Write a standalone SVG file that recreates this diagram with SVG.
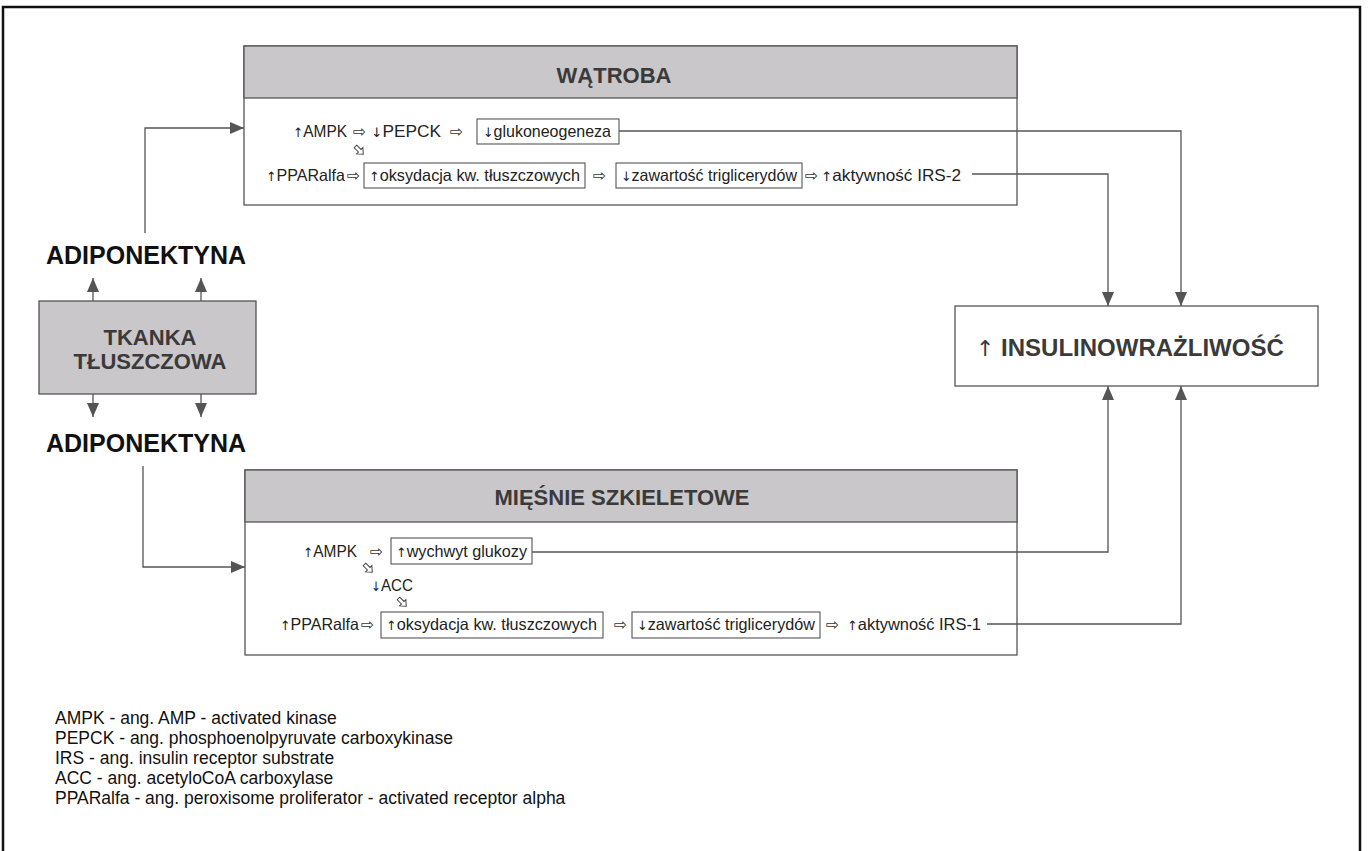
<svg xmlns="http://www.w3.org/2000/svg" width="1368" height="851" viewBox="0 0 1368 851">
<defs>
<style>
.frame{fill:none;stroke:#111;stroke-width:2.5}
.box{fill:#fff;stroke:#555;stroke-width:1.3}
.hdr{fill:#c9c7c9;stroke:#555;stroke-width:1.3}
.ibox{fill:#fff;stroke:#555;stroke-width:1.1}
.ln{fill:none;stroke:#555;stroke-width:1.3}
.t{font-family:"Liberation Sans",Arial,sans-serif;font-size:16.5px;fill:#222}
.a{font-family:"DejaVu Sans",sans-serif;font-size:13px;fill:#222}
.ar{font-family:"DejaVu Sans",sans-serif;font-size:16px;fill:#333}
.title{font-family:"Liberation Sans",Arial,sans-serif;font-size:22px;font-weight:bold;fill:#3a3a3a;text-anchor:middle}
.adi{font-family:"Liberation Sans",Arial,sans-serif;font-size:25px;font-weight:bold;fill:#111;text-anchor:middle}
.fn{font-family:"Liberation Sans",Arial,sans-serif;font-size:17.5px;fill:#111}
.big{font-family:"Liberation Sans",Arial,sans-serif;font-size:24px;font-weight:bold;fill:#3a3a3a}
</style>
<marker id="ah" viewBox="0 0 14 12" refX="14" refY="6" markerWidth="14" markerHeight="12" markerUnits="userSpaceOnUse" orient="auto">
<path d="M0,0 L14,6 L0,12 Z" fill="#555"/>
</marker>
<path id="da" d="M-5,-1.8 L1,-1.8 L1,-4.5 L6,0 L1,4.5 L1,1.8 L-5,1.8 Z" fill="#fff" stroke="#444" stroke-width="1" transform="rotate(45)"/>
</defs>

<rect width="1368" height="851" fill="#fff"/>
<path class="frame" d="M3,851 L3,7 L1360,7 L1360,851"/>

<g id="watroba">
<rect class="box" x="244" y="46" width="773" height="159"/>
<rect class="hdr" x="244" y="46" width="773" height="52"/>
<text class="title" x="614" y="83">WĄTROBA</text>
<text class="t" x="293" y="137" textLength="54" lengthAdjust="spacingAndGlyphs"><tspan class="a">↑</tspan>AMPK</text>
<text class="ar" x="353" y="137">⇨</text>
<text class="t" x="371" y="137" textLength="70" lengthAdjust="spacingAndGlyphs"><tspan class="a">↓</tspan>PEPCK</text>
<text class="ar" x="450" y="137">⇨</text>
<rect class="ibox" x="477" y="119" width="142" height="25"/>
<text class="t" x="483" y="137" textLength="128" lengthAdjust="spacingAndGlyphs"><tspan class="a">↓</tspan>glukoneogeneza</text>
<use href="#da" x="359" y="150"/>
<text class="t" x="266" y="181" textLength="79" lengthAdjust="spacingAndGlyphs"><tspan class="a">↑</tspan>PPARalfa</text>
<text class="ar" x="347" y="181">⇨</text>
<rect class="ibox" x="364" y="163" width="221" height="25"/>
<text class="t" x="369" y="181" textLength="211" lengthAdjust="spacingAndGlyphs"><tspan class="a">↑</tspan>oksydacja kw. tłuszczowych</text>
<text class="ar" x="593" y="181">⇨</text>
<rect class="ibox" x="616" y="163" width="186" height="25"/>
<text class="t" x="621" y="181" textLength="176" lengthAdjust="spacingAndGlyphs"><tspan class="a">↓</tspan>zawartość triglicerydów</text>
<text class="ar" x="805" y="181">⇨</text>
<text class="t" x="821" y="181" textLength="140" lengthAdjust="spacingAndGlyphs"><tspan class="a">↑</tspan>aktywność IRS-2</text>
</g>

<g id="miesnie">
<rect class="box" x="245" y="470" width="772" height="185"/>
<rect class="hdr" x="245" y="470" width="772" height="52"/>
<text class="title" x="622" y="505">MIĘŚNIE SZKIELETOWE</text>
<text class="t" x="303" y="557" textLength="54" lengthAdjust="spacingAndGlyphs"><tspan class="a">↑</tspan>AMPK</text>
<text class="ar" x="370" y="557">⇨</text>
<rect class="ibox" x="391" y="538" width="141" height="26"/>
<text class="t" x="396" y="557" textLength="131" lengthAdjust="spacingAndGlyphs"><tspan class="a">↑</tspan>wychwyt glukozy</text>
<use href="#da" x="368" y="568"/>
<text class="t" x="371" y="591" textLength="42" lengthAdjust="spacingAndGlyphs"><tspan class="a">↓</tspan>ACC</text>
<use href="#da" x="402" y="602"/>
<text class="t" x="280" y="630" textLength="79" lengthAdjust="spacingAndGlyphs"><tspan class="a">↑</tspan>PPARalfa</text>
<text class="ar" x="361" y="630">⇨</text>
<rect class="ibox" x="381" y="612" width="222" height="26"/>
<text class="t" x="386" y="630" textLength="211" lengthAdjust="spacingAndGlyphs"><tspan class="a">↑</tspan>oksydacja kw. tłuszczowych</text>
<text class="ar" x="614" y="630">⇨</text>
<rect class="ibox" x="632" y="612" width="188" height="26"/>
<text class="t" x="637" y="630" textLength="178" lengthAdjust="spacingAndGlyphs"><tspan class="a">↓</tspan>zawartość triglicerydów</text>
<text class="ar" x="826" y="630">⇨</text>
<text class="t" x="847" y="630" textLength="134" lengthAdjust="spacingAndGlyphs"><tspan class="a">↑</tspan>aktywność IRS-1</text>
</g>

<g id="tkanka">
<rect class="hdr" x="39" y="301" width="217" height="93" fill="#c4c2c4"/>
<text class="title" x="150" y="345">TKANKA</text>
<text class="title" x="150" y="369">TŁUSZCZOWA</text>
</g>

<g id="adiponektyna-top">
<text class="adi" x="146" y="264">ADIPONEKTYNA</text>
</g>
<g id="adiponektyna-bottom">
<text class="adi" x="146" y="452">ADIPONEKTYNA</text>
</g>

<g id="insulino">
<rect class="box" x="955" y="306" width="363" height="80"/>
<text class="big" x="976" y="356"><tspan font-family="DejaVu Sans, sans-serif" font-weight="normal" font-size="22">↑</tspan> INSULINOWRAŻLIWOŚĆ</text>
</g>

<g id="connectors">
<path class="ln" d="M93,301 L93,278" marker-end="url(#ah)"/>
<path class="ln" d="M201,301 L201,278" marker-end="url(#ah)"/>
<path class="ln" d="M93,394 L93,417" marker-end="url(#ah)"/>
<path class="ln" d="M201,394 L201,417" marker-end="url(#ah)"/>
<path class="ln" d="M145,233 L145,128 L244,128" marker-end="url(#ah)"/>
<path class="ln" d="M143,466 L143,567 L245,567" marker-end="url(#ah)"/>
<path class="ln" d="M619,131 L1181,131 L1181,306" marker-end="url(#ah)"/>
<path class="ln" d="M972,174 L1108,174 L1108,306" marker-end="url(#ah)"/>
<path class="ln" d="M532,552 L1108,552 L1108,386" marker-end="url(#ah)"/>
<path class="ln" d="M987,624 L1181,624 L1181,386" marker-end="url(#ah)"/>
</g>

<g id="legend">
<text class="fn" x="55" y="724">AMPK - ang. AMP - activated kinase</text>
<text class="fn" x="55" y="744">PEPCK - ang. phosphoenolpyruvate carboxykinase</text>
<text class="fn" x="55" y="764">IRS - ang. insulin receptor substrate</text>
<text class="fn" x="55" y="784">ACC - ang. acetyloCoA carboxylase</text>
<text class="fn" x="55" y="804">PPARalfa - ang. peroxisome proliferator - activated receptor alpha</text>
</g>
</svg>
